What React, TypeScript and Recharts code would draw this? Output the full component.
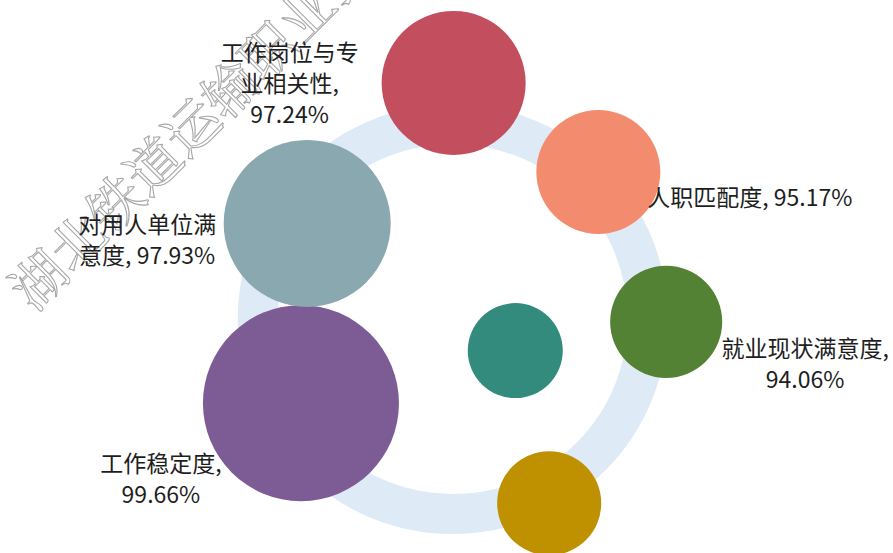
import React from 'react';
import { ScatterChart, Scatter, XAxis, YAxis, ZAxis, Cell, Customized } from 'recharts';

// bubble data (x/y are plot units 0..100)
const ITEMS = ['工作岗位与专业相关性', '人职匹配度', '就业现状满意度', '', '', '工作稳定度', '对用人单位满意度'];
const RATES = [97.24, 95.17, 94.06, null, null, 99.66, 97.93];
const POS_X = [50.8, 67.0, 74.6, 61.5, 57.7, 33.7, 34.4];
const POS_Y = [85.0, 68.9, 41.8, 9.0, 36.6, 27.1, 59.6];
const BUBBLE_SIZE = [54.0, 40.0, 32.7, 28.2, 23.5, 100, 72.6];

// decorative ring
const RING_X = [50.7];
const RING_Y = [42.3];

const COLORS = ['#c24e5e', '#f38c6f', '#548235', '#bf9000', '#338b7e', '#7d5c95', '#8aa8b0'];

const WATERMARK = '湖北铁道运输职业技术学院';

const W = 893;
const H = 553;
const FONT = "'Noto Sans CJK SC', 'Noto Sans', sans-serif";

// where each label sits relative to its bubble, and where its text wraps
const LABEL_LAYOUT: Record<number, { dx: number; dy: number; anchor: 'start' | 'middle'; breaks: number[] }> = {
  0: { dx: -164, dy: -32, anchor: 'middle', breaks: [6, 11] },
  1: { dx: 49, dy: 24, anchor: 'start', breaks: [] },
  2: { dx: 139, dy: 25, anchor: 'middle', breaks: [8] },
  5: { dx: -140, dy: 59, anchor: 'middle', breaks: [6] },
  6: { dx: -160, dy: 0, anchor: 'middle', breaks: [6] },
};

const bubbles = ITEMS.map((name, i) => ({
  idx: i,
  name,
  rate: RATES[i],
  x: POS_X[i],
  y: POS_Y[i],
  z: BUBBLE_SIZE[i],
}));

const ring = RING_X.map((x, i) => ({ x, y: RING_Y[i] }));

const splitLines = (text: string, breaks: number[]) => {
  const out: string[] = [];
  let start = 0;
  breaks.forEach((b) => {
    out.push(text.slice(start, b).trim());
    start = b;
  });
  out.push(text.slice(start).trim());
  return out;
};

const RingShape = (props: any) => (
  <circle cx={props.cx} cy={props.cy} r={195} fill="none" stroke="#deeaf6" strokeWidth={40} />
);

const LabelShape = (props: any) => {
  const p = props.payload;
  const lay = LABEL_LAYOUT[p.idx];
  if (!lay || p.rate == null) return <g />;
  const lines = splitLines(`${p.name}, ${p.rate.toFixed(2)}%`, lay.breaks);
  const lh = 31;
  return (
    <text
      x={props.cx + lay.dx}
      y={props.cy + lay.dy}
      textAnchor={lay.anchor}
      dominantBaseline="central"
      fill="#1e1e1e"
      fontSize={23}
      fontFamily={FONT}
    >
      {lines.map((ln, k) => (
        <tspan key={k} x={props.cx + lay.dx} y={props.cy + lay.dy + k * lh}>
          {ln}
        </tspan>
      ))}
    </text>
  );
};

const Watermark = () => (
  <text
    x={34}
    y={313}
    transform="rotate(-45 34 313)"
    fontSize={54}
    fontFamily="'Noto Serif CJK SC', 'Noto Sans CJK SC', serif"
    fill="none"
    stroke="#a8a8a8"
    strokeWidth={1.1}
  >
    {WATERMARK}
  </text>
);

export default function App() {
  return (
    <div style={{ position: 'absolute', left: 0, top: 0, width: W, height: H, background: '#fff' }}>
      <ScatterChart width={W} height={H} margin={{ top: 0, right: 0, bottom: 0, left: 0 }}>
        <XAxis type="number" dataKey="x" domain={[0, 100]} hide />
        <YAxis type="number" dataKey="y" domain={[0, 100]} hide />
        <ZAxis type="number" dataKey="z" domain={[0, 100]} range={[0, 30172]} />
        <Scatter data={ring} shape={RingShape} isAnimationActive={false} />
        <Scatter data={bubbles} shape="circle" isAnimationActive={false}>
          {bubbles.map((b) => (
            <Cell key={b.idx} fill={COLORS[b.idx]} />
          ))}
        </Scatter>
        <Scatter data={bubbles} shape={LabelShape} isAnimationActive={false} />
        <Customized component={Watermark} />
      </ScatterChart>
    </div>
  );
}
